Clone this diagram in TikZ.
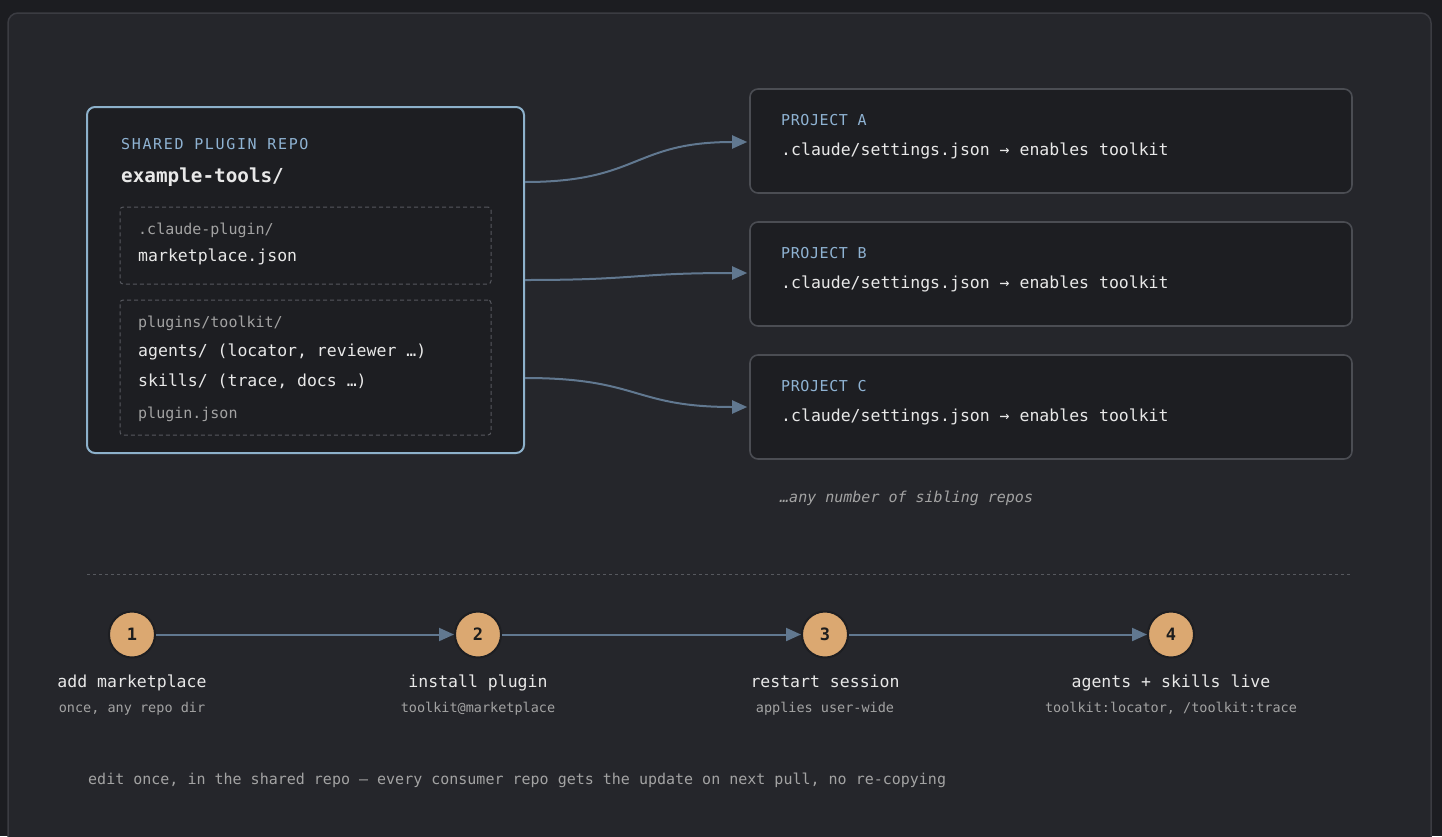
\documentclass[tikz,border=0pt]{standalone}
\usepackage{fontspec}
\newfontfamily\mono[ItalicFont={DejaVu Sans Mono Oblique},BoldFont={DejaVu Sans Mono Bold}]{DejaVu Sans Mono}
\newfontfamily\monoA[LetterSpace=11]{DejaVu Sans Mono}
\newfontfamily\monoB[LetterSpace=4]{DejaVu Sans Mono}
\usetikzlibrary{arrows.meta}
\definecolor{outerbg}{HTML}{1C1D21}
\definecolor{panel}{HTML}{25262B}
\definecolor{panelline}{HTML}{3B3C42}
\definecolor{boxfill}{HTML}{1D1E22}
\definecolor{sharedline}{HTML}{8DB1CB}
\definecolor{projline}{HTML}{4B4D53}
\definecolor{dashline}{HTML}{56585E}
\definecolor{labblue}{HTML}{8FB3D3}
\definecolor{txt}{HTML}{E8E8E8}
\definecolor{dim}{HTML}{A3A3A3}
\definecolor{arr}{HTML}{617890}
\definecolor{stepfill}{HTML}{DBA871}
\definecolor{stepnum}{HTML}{1D1D1D}
\begin{document}
\begin{tikzpicture}[x=1pt,y=-1pt,
  txtnode/.style={inner sep=0pt, anchor=base west},
  big/.style={txtnode, text=txt, font=\mono\fontsize{16.5}{20}\selectfont},
  small/.style={txtnode, text=dim, font=\mono\fontsize{15}{18}\selectfont},
  caplabA/.style={txtnode, text=labblue, font=\monoA\fontsize{15}{18}\selectfont},
  caplabB/.style={txtnode, text=labblue, font=\monoB\fontsize{15}{18}\selectfont},
  sharedbox/.style={draw=sharedline, fill=boxfill, line width=2pt, rounded corners=8pt, inner sep=0pt},
  dashbox/.style={draw=dashline, dash pattern=on 4pt off 3pt, line width=1pt, rounded corners=3pt, inner sep=0pt},
  projbox/.style={draw=projline, fill=boxfill, line width=1.6pt, rounded corners=8pt, inner sep=0pt, minimum width=602pt, minimum height=104pt},
  conn/.style={draw=arr, line width=2pt, -{Triangle[length=15pt,width=13pt]}},
  stepc/.style={circle, fill=stepfill, draw=boxfill, line width=2pt, minimum size=46pt, inner sep=0pt, text=stepnum, font=\mono\bfseries\fontsize{17}{20}\selectfont},
  steplab/.style={inner sep=0pt, anchor=base, text=txt, font=\mono\fontsize{16.5}{20}\selectfont},
  stepsub/.style={inner sep=0pt, anchor=base, text=dim, font=\mono\fontsize{13.5}{16}\selectfont}
]
\useasboundingbox (0,0) rectangle (1442,836);
\fill[outerbg] (0,0) rectangle (1442,836);
\draw[panelline, fill=panel, line width=1.5pt, rounded corners=10pt] (8,13) rectangle (1431,870);

% shared repo
\node[sharedbox, minimum width=437pt, minimum height=346pt] (shared) at (305.5,280) {};
\node[dashbox, minimum width=371pt, minimum height=77pt] (d1) at (305.5,245.5) {};
\node[dashbox, minimum width=371pt, minimum height=135pt] (d2) at (305.5,367.5) {};
\node[caplabA] (slab) at (121,149.5) {SHARED PLUGIN REPO};
\node[txtnode, text=txt, font=\mono\bfseries\fontsize{19.3}{23}\selectfont] (sname) at (121,182.5) {example-tools/};
\node[small] (cp) at (138,234) {.claude-plugin/};
\node[big] (mj) at (138,261.5) {marketplace.json};
\node[small] (pt) at (138,327) {plugins/toolkit/};
\node[big] (ag) at (138,356.5) {agents/ (locator, reviewer …)};
\node[big] (sk) at (138,386.5) {skills/ (trace, docs …)};
\node[small] (pj) at (138,418) {plugin.json};

% projects
\node[projbox] (pA) at (1051,141) {};
\node[projbox] (pB) at (1051,274) {};
\node[projbox] (pC) at (1051,407) {};
\node[caplabB] (lA) at (781,125.5) {PROJECT A};
\node[big] (tA) at (781,155) {.claude/settings.json → enables toolkit};
\node[caplabB] (lB) at (781,258.5) {PROJECT B};
\node[big] (tB) at (781,288) {.claude/settings.json → enables toolkit};
\node[caplabB] (lC) at (781,391) {PROJECT C};
\node[big] (tC) at (781,421) {.claude/settings.json → enables toolkit};
\node[txtnode, text=dim, font=\mono\itshape\fontsize{15}{18}\selectfont] (sib) at (780,502) {…any number of sibling repos};

\draw[conn] ([yshift=98pt]shared.east) .. controls +(115,0) and +(-115,0) .. ([yshift=-1pt,xshift=-2pt]pA.west);
\draw[conn] (shared.east) .. controls +(115,0) and +(-115,0) .. ([yshift=1pt,xshift=-2pt]pB.west);
\draw[conn] ([yshift=-98pt]shared.east) .. controls +(115,0) and +(-115,0) .. ([xshift=-2pt]pC.west);

% separator
\draw[dashline, line width=1pt, dash pattern=on 3pt off 3pt] (87,574) -- (1350,574);

% steps
\node[stepc] (s1) at (132,634.5) {1};
\node[stepc] (s2) at (478,634.5) {2};
\node[stepc] (s3) at (825,634.5) {3};
\node[stepc] (s4) at (1171,634.5) {4};
\draw[conn] (s1) -- (s2);
\draw[conn] (s2) -- (s3);
\draw[conn] (s3) -- (s4);
\node[steplab] (l1) at (132,687) {add marketplace};
\node[stepsub] (u1) at (132,712.5) {once, any repo dir};
\node[steplab] (l2) at (478,687) {install plugin};
\node[stepsub] (u2) at (478,712.5) {toolkit@marketplace};
\node[steplab] (l3) at (825,687) {restart session};
\node[stepsub] (u3) at (825,712.5) {applies user-wide};
\node[steplab] (l4) at (1171,687) {agents + skills live};
\node[stepsub] (u4) at (1171,712.5) {toolkit:locator, /toolkit:trace};

\node[small] (foot) at (88,784) {edit once, in the shared repo — every consumer repo gets the update on next pull, no re-copying};
\end{tikzpicture}
\end{document}
